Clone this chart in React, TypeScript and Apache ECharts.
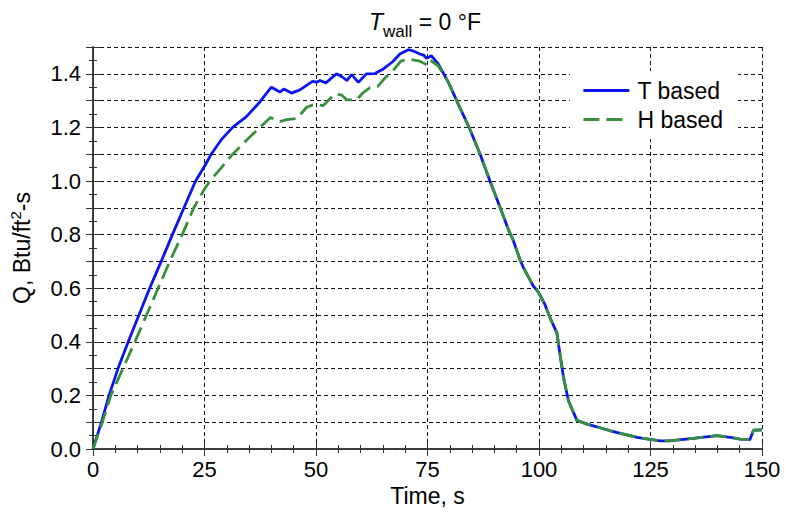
import React, { useEffect, useRef } from 'react';
import * as echarts from 'echarts';

// Time (s) and heat flux Q (Btu/ft^2-s)
const T_BASED_TIME = [0, 1.9, 3.6, 5.6, 7.9, 10.3, 12.7, 15.3, 17.8, 20.4, 23, 25, 26.5, 28.8, 31.3, 34.4, 37.4, 40, 41.9, 42.8, 44.5, 46.4, 49.2, 50.2, 50.9, 52.2, 54.6, 55.9, 56.9, 58, 59.5, 61.3, 63.2, 65.1, 67.2, 68.8, 70.7, 71.8, 73.3, 74.1, 74.8, 75.9, 77.4];
const T_BASED_Q = [0, 0.1, 0.2, 0.3, 0.4, 0.5, 0.6, 0.7, 0.8, 0.9, 1.0, 1.055, 1.1, 1.155, 1.2, 1.24, 1.295, 1.35, 1.332, 1.343, 1.328, 1.34, 1.372, 1.369, 1.375, 1.366, 1.4, 1.388, 1.375, 1.397, 1.368, 1.4, 1.401, 1.418, 1.445, 1.474, 1.49, 1.485, 1.474, 1.47, 1.458, 1.467, 1.437];

const H_BASED_TIME = [0, 2.1, 4, 6.7, 9.4, 12, 14.6, 17.2, 20, 22.6, 25, 26.2, 28.8, 31.3, 34.3, 37.4, 39.8, 41.9, 43.4, 45.7, 47.9, 49.8, 51.6, 52.7, 54.3, 55.8, 56.9, 59.1, 60.6, 62.1, 63.8, 65.5, 67.2, 69, 70.7, 73.3, 74.8, 75.5, 77.4];
const H_BASED_Q = [0, 0.1, 0.2, 0.3, 0.4, 0.5, 0.6, 0.7, 0.8, 0.9, 0.97, 1.0, 1.05, 1.1, 1.15, 1.2, 1.237, 1.222, 1.229, 1.233, 1.275, 1.287, 1.281, 1.3, 1.325, 1.32, 1.303, 1.303, 1.33, 1.348, 1.352, 1.385, 1.41, 1.447, 1.455, 1.447, 1.434, 1.452, 1.43];

// Part shared by both curves after ~80 s
const TAIL_TIME = [79.7, 81.9, 84.4, 86.8, 89, 91.3, 93.3, 94.2, 95.7, 96.5, 98.7, 99.9, 101.3, 102.8, 104, 104.7, 105.5, 106.6, 108.5, 110.8, 116, 122, 127.2, 129.2, 134.6, 139.9, 142.9, 145.1, 147.3, 148.1, 150];
const TAIL_Q = [1.368, 1.287, 1.197, 1.1, 1.0, 0.9, 0.812, 0.78, 0.708, 0.677, 0.609, 0.584, 0.54, 0.477, 0.434, 0.354, 0.267, 0.18, 0.107, 0.093, 0.068, 0.043, 0.03, 0.03, 0.04, 0.05, 0.043, 0.037, 0.035, 0.07, 0.071];

const SERIES_NAMES = ['T based', 'H based'];

const zip = (a: number[], b: number[]) => a.map((v, i) => [v, b[i]]);

export default function App() {
  const ref = useRef<HTMLDivElement>(null);
  useEffect(() => {
    const chart = echarts.init(ref.current!, null, { renderer: 'svg' });
    const font = '"Liberation Sans", Arial, sans-serif';
    const blue = '#0a14f0';
    const green = '#36913a';
    const blueLine = { color: blue, width: 2.8, type: 'solid' };
    const greenLine = { color: green, width: 2.8, type: [16, 7] };
    const axisLine = { show: true, lineStyle: { color: '#333', width: 1.5 } };
    const tick = { show: true, inside: true, length: 7, lineStyle: { color: '#333', width: 1 } };
    const gridLine = { show: true, lineStyle: { color: '#111', type: [4, 3], width: 1 } };
    const tData = zip(T_BASED_TIME, T_BASED_Q).concat(zip(TAIL_TIME, TAIL_Q));
    const hData = zip(H_BASED_TIME, H_BASED_Q).concat(zip(TAIL_TIME, TAIL_Q));
    chart.setOption({
      animation: false,
      backgroundColor: '#fff',
      textStyle: { fontFamily: font },
      grid: { left: 93, right: 24, top: 47, bottom: 65 },
      graphic: [
        {
          type: 'text',
          x: 425,
          y: 10,
          style: {
            text: '{it|T}{sub|wall}{n| = 0 °F}',
            align: 'center',
            verticalAlign: 'top',
            fill: '#000',
            rich: {
              it: { fontFamily: font, fontStyle: 'italic', fontSize: 23, lineHeight: 26, verticalAlign: 'top', fill: '#000' },
              sub: { fontFamily: font, fontSize: 17, lineHeight: 17, padding: [13, 0, 0, 0], verticalAlign: 'top', fill: '#000' },
              n: { fontFamily: font, fontSize: 23, lineHeight: 26, verticalAlign: 'top', fill: '#000' },
            },
          },
        },
      ],
      legend: {
        orient: 'vertical',
        left: 570,
        top: 71,
        padding: [8, 15, 8, 12],
        backgroundColor: '#fff',
        itemWidth: 46,
        itemHeight: 20,
        itemGap: 6,
        itemStyle: { opacity: 0 },
        textStyle: { fontFamily: font, fontSize: 23, lineHeight: 23, color: '#000', padding: [0, 0, 0, 3] },
        data: [
          { name: SERIES_NAMES[0], itemStyle: { opacity: 0 }, lineStyle: blueLine },
          { name: SERIES_NAMES[1], itemStyle: { opacity: 0 }, lineStyle: greenLine },
        ],
      },
      xAxis: [
        {
          type: 'value',
          min: 0,
          max: 150,
          interval: 25,
          name: 'Time, s',
          nameLocation: 'middle',
          nameGap: 34,
          nameTextStyle: { fontFamily: font, fontSize: 23, color: '#000' },
          axisLine,
          axisTick: tick,
          minorTick: { show: true, splitNumber: 5, length: 4, lineStyle: { color: '#333', width: 1 } },
          axisLabel: { fontFamily: font, fontSize: 22, color: '#000', margin: 9 },
          splitLine: gridLine,
        },
        {
          type: 'value',
          position: 'top',
          min: 0,
          max: 150,
          interval: 25,
          axisLine,
          axisTick: tick,
          minorTick: { show: true, splitNumber: 5, length: 4, lineStyle: { color: '#333', width: 1 } },
          axisLabel: { show: false },
          splitLine: { show: false },
        },
      ],
      yAxis: [
        {
          type: 'value',
          min: 0,
          max: 1.5,
          interval: 0.1,
          name: '{n|Q, Btu/ft}{sup|2}{n|-s}',
          nameLocation: 'middle',
          nameGap: 60,
          nameRotate: 90,
          nameTextStyle: {
            color: '#000',
            rich: {
              n: { fontFamily: font, fontSize: 23, lineHeight: 26, verticalAlign: 'bottom', color: '#000' },
              sup: { fontFamily: font, fontSize: 15, lineHeight: 15, padding: [0, 0, 10, 0], verticalAlign: 'bottom', color: '#000' },
            },
          },
          axisLine,
          axisTick: tick,
          minorTick: { show: true, splitNumber: 2, length: 4, lineStyle: { color: '#333', width: 1 } },
          axisLabel: {
            fontFamily: font,
            fontSize: 22,
            color: '#000',
            margin: 12,
            formatter: (v: number) => (Math.round(v * 10) % 2 === 0 ? v.toFixed(1) : ''),
          },
          splitLine: gridLine,
        },
        {
          type: 'value',
          position: 'right',
          min: 0,
          max: 1.5,
          interval: 0.1,
          axisLine,
          axisTick: tick,
          minorTick: { show: true, splitNumber: 2, length: 4, lineStyle: { color: '#333', width: 1 } },
          axisLabel: { show: false },
          splitLine: { show: false },
        },
      ],
      series: [
        {
          name: SERIES_NAMES[0],
          type: 'line',
          data: tData,
          symbol: 'none',
          showSymbol: false,
          lineStyle: blueLine,
          itemStyle: { color: blue },
        },
        {
          name: SERIES_NAMES[1],
          type: 'line',
          data: hData,
          symbol: 'none',
          showSymbol: false,
          lineStyle: greenLine,
          itemStyle: { color: green },
        },
      ],
    });
    return () => chart.dispose();
  }, []);
  return <div ref={ref} style={{ position: 'fixed', left: 0, top: 0, width: 786, height: 514, background: '#fff' }} />;
}
